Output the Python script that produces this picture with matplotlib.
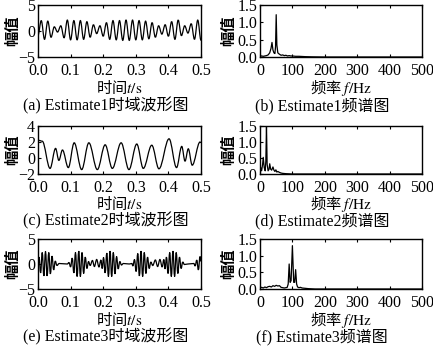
import matplotlib
matplotlib.use("Agg")
import matplotlib.pyplot as plt
from matplotlib.path import Path
from matplotlib.patches import PathPatch

plt.rcParams["font.family"] = ["Liberation Serif", "Noto Sans CJK SC"]
plt.rcParams["mathtext.fontset"] = "stix"
plt.rcParams["axes.unicode_minus"] = True

# -----------------------
# Data
# -----------------------

# Estimate1 time waveform: extrema (time s, amplitude)
t1 = [0.000, 0.010, 0.020, 0.030, 0.040, 0.050, 0.060, 0.070, 0.080, 0.090,
      0.100, 0.110, 0.120, 0.130, 0.140, 0.150, 0.160, 0.170, 0.180, 0.190,
      0.200, 0.210, 0.220, 0.230, 0.240, 0.250, 0.260, 0.270, 0.280, 0.290,
      0.300, 0.310, 0.320, 0.330, 0.340, 0.350, 0.360, 0.370, 0.380, 0.390,
      0.400, 0.410, 0.420, 0.430, 0.440, 0.450, 0.460, 0.470, 0.480, 0.490,
      0.500]
y1 = [-0.8, 2.0, -1.6, 1.9, -1.2, 0.8, -0.2, 1.0, -1.3, 2.1,
      -1.7, 2.0, -1.7, 2.0, -1.6, 1.8, -1.2, 1.2, -0.5, 1.0,
      -1.0, 1.6, -1.6, 2.0, -1.7, 2.0, -1.8, 2.1, -1.8, 2.1,
      -1.7, 2.0, -1.7, 1.9, -1.5, 1.6, -1.2, 1.0, -0.6, 1.2,
      -1.0, 1.8, -1.6, 2.1, -0.9, 1.0, -0.4, 1.4, -1.6, 2.1,
      -1.8]

# Estimate2 time waveform
t2 = [0.000, 0.003, 0.013, 0.037, 0.054, 0.064, 0.075, 0.093, 0.111, 0.134,
      0.156, 0.182, 0.206, 0.228, 0.255, 0.279, 0.303, 0.323, 0.349, 0.371,
      0.402, 0.425, 0.441, 0.451, 0.461, 0.473, 0.497, 0.500]
y2 = [2.0, 2.2, 2.1, -1.3, 1.2, -0.3, 1.0, -1.2, 1.9, -1.45,
      1.9, -1.45, 1.65, -1.3, 1.9, -1.45, 1.75, -1.3, 1.6, -1.35,
      2.4, -1.2, 1.45, -0.4, 1.15, -0.9, 2.0, 1.9]

# Estimate3 time waveform (bursts of a 100 Hz carrier)
t3 = [0.000, 0.003, 0.008, 0.013, 0.018, 0.023, 0.028, 0.033, 0.038, 0.043,
      0.048, 0.053, 0.058, 0.065, 0.090,
      0.095, 0.100, 0.105, 0.110, 0.115, 0.120, 0.125, 0.130, 0.135, 0.140,
      0.145, 0.150, 0.155, 0.160, 0.167, 0.173, 0.180, 0.187, 0.193,
      0.197, 0.201, 0.206, 0.211, 0.216, 0.221, 0.226, 0.231, 0.236, 0.241,
      0.246, 0.251, 0.256, 0.262, 0.280, 0.288,
      0.291, 0.296, 0.301, 0.306, 0.311, 0.316, 0.321, 0.326, 0.331, 0.336,
      0.341, 0.346, 0.352, 0.360, 0.367, 0.374, 0.381, 0.386,
      0.390, 0.394, 0.399, 0.404, 0.409, 0.414, 0.419, 0.424, 0.429, 0.434,
      0.439, 0.444, 0.449, 0.460, 0.478,
      0.482, 0.487, 0.492, 0.497, 0.500]
y3 = [0.0, 1.4, -1.8, 2.3, -2.4, 2.5, -2.4, 2.3, -2.0, 1.6,
      -1.2, 0.6, -0.3, 0.1, 0.0,
      0.3, -0.6, 1.2, -1.8, 2.3, -2.5, 2.6, -2.5, 2.3, -1.9,
      1.4, -0.9, 0.5, -0.3, 0.7, -0.5, 0.9, -0.6, 0.8,
      -0.9, 1.3, -1.8, 2.2, -2.5, 2.6, -2.5, 2.3, -2.0, 1.5,
      -1.0, 0.5, -0.2, 0.1, 0.0, 0.1,
      -0.4, 0.9, -1.5, 2.1, -2.4, 2.6, -2.5, 2.3, -1.9, 1.4,
      -0.9, 0.4, -0.3, 0.8, -0.5, 0.9, -0.6, 0.9,
      -1.0, 1.4, -1.9, 2.3, -2.5, 2.6, -2.5, 2.3, -1.9, 1.4,
      -0.9, 0.4, -0.1, 0.0, 0.1,
      -0.4, 0.8, -1.2, 1.5, 0.5]

# Spectra (frequency Hz, amplitude)
f1 = [0, 5, 10, 15, 20, 25, 30, 34, 37, 40, 43, 46, 48, 50, 52, 55, 60, 65,
      70, 75, 80, 85, 90, 95, 100, 110, 120, 130, 140, 160, 200, 500]
a1 = [0.02, 0.03, 0.02, 0.03, 0.04, 0.06, 0.12, 0.25, 0.42, 0.2, 0.12, 0.1,
      0.3, 1.22, 0.35, 0.12, 0.08, 0.05, 0.06, 0.04, 0.05, 0.03, 0.04, 0.03,
      0.03, 0.02, 0.02, 0.015, 0.01, 0.005, 0.0, 0.0]

f2 = [0, 2, 5, 8, 10, 13, 16, 18, 20, 22, 25, 28, 30, 33, 36, 40, 43, 46,
      49, 52, 55, 60, 65, 70, 80, 100, 500]
a2 = [0.15, 0.2, 0.1, 0.3, 0.52, 0.2, 0.1, 0.4, 1.5, 0.3, 0.1, 0.15, 0.32,
      0.15, 0.12, 0.22, 0.12, 0.08, 0.13, 0.06, 0.08, 0.05, 0.03, 0.02, 0.01,
      0.0, 0.0]

f3 = [0, 5, 10, 15, 20, 25, 30, 35, 40, 45, 50, 55, 60, 65, 70, 75, 80, 84,
      87, 90, 93, 96, 100, 104, 107, 110, 113, 116, 120, 125, 130, 140, 150,
      170, 500]
a3 = [0.03, 0.05, 0.03, 0.06, 0.04, 0.07, 0.08, 0.06, 0.1, 0.08, 0.11, 0.09,
      0.1, 0.05, 0.04, 0.03, 0.04, 0.05, 0.15, 0.75, 0.2, 0.25, 1.3, 0.2, 0.2,
      0.58, 0.15, 0.06, 0.04, 0.05, 0.03, 0.02, 0.01, 0.0, 0.0]

time_ticks = [0.0, 0.1, 0.2, 0.3, 0.4, 0.5]
freq_ticks = [0, 100, 200, 300, 400, 500]
amp_ticks = [0.0, 0.5, 1.0, 1.5]

captions_left = ["(a) Estimate1时域波形图", "(c) Estimate2时域波形图",
                 "(e) Estimate3时域波形图"]
captions_right = ["(b) Estimate1频谱图", "(d) Estimate2频谱图",
                  "(f) Estimate3频谱图"]

W, H = 433, 346


def smooth_path(ts, ys):
    # cubic segments with flat tangents at each extremum
    verts = [(ts[0], ys[0])]
    codes = [Path.MOVETO]
    for i in range(1, len(ts)):
        h = ts[i] - ts[i - 1]
        verts += [(ts[i - 1] + 0.36 * h, ys[i - 1]),
                  (ts[i] - 0.36 * h, ys[i]),
                  (ts[i], ys[i])]
        codes += [Path.CURVE4] * 3
    return Path(verts, codes)


def box(left, top, right, bottom):
    return [left / W, 1 - bottom / H, (right - left) / W, (bottom - top) / H]


def style(ax):
    ax.tick_params(direction="in", length=2.5, width=0.8, labelsize=11.5,
                   top=True, right=False)
    ax.tick_params(axis="x", pad=4)
    ax.tick_params(axis="y", pad=2)
    for s in ax.spines.values():
        s.set_linewidth(1.0)


fig = plt.figure(figsize=(W / 100, H / 100), dpi=100)

rows = [(5, 57), (126, 174), (239, 289)]
left_ylim = [(-5, 5), (-2, 4), (-5, 5)]
left_yticks = [[-5, 0, 5], [-2, 0, 2, 4], [-5, 0, 5]]
waves = [(t1, y1), (t2, y2), (t3, y3)]
spectra = [(f1, a1), (f2, a2), (f3, a3)]
label_y = [(88, 106), (204, 221), (320, 337)]

for i in range(3):
    top, bottom = rows[i]

    # time waveform
    ax = fig.add_axes(box(38, top, 201, bottom))
    ts, ys = waves[i]
    ax.add_patch(PathPatch(smooth_path(ts, ys), fill=False, ec="black",
                           lw=0.9))
    ax.set_xlim(0, 0.5)
    ax.set_ylim(*left_ylim[i])
    ax.set_xticks(time_ticks)
    ax.set_xticklabels(["%.1f" % v for v in time_ticks])
    ax.set_yticks(left_yticks[i])
    style(ax)
    ax.set_ylabel("幅值", family="Noto Sans CJK SC", fontsize=11,
                  weight="bold")
    ax.yaxis.set_label_coords((20 - 38) / 163, 0.5)

    # spectrum
    bx = fig.add_axes(box(260, top, 422, bottom))
    fs, am = spectra[i]
    bx.plot(fs, am, color="black", lw=0.9)
    bx.set_xlim(0, 500)
    bx.set_ylim(0, 1.5)
    bx.set_xticks(freq_ticks)
    bx.set_yticks(amp_ticks)
    bx.set_yticklabels(["%.1f" % v for v in amp_ticks])
    style(bx)
    bx.set_ylabel("幅值", family="Noto Sans CJK SC", fontsize=11,
                  weight="bold")
    bx.yaxis.set_label_coords((236 - 260) / 162, 0.5)

    xl, cap = label_y[i]
    fig.text(119.5 / W, 1 - xl / H, r"时间$t/\mathrm{s}$",
             family="Noto Sans CJK SC", fontsize=11,
             ha="center", va="center")
    fig.text(341 / W, 1 - xl / H, r"频率 $f/\mathrm{Hz}$",
             family="Noto Sans CJK SC", fontsize=11,
             ha="center", va="center")
    fig.text(106 / W, 1 - cap / H, captions_left[i], fontsize=11.5,
             ha="center", va="center")
    fig.text(322 / W, 1 - cap / H, captions_right[i], fontsize=11.5,
             ha="center", va="center")

fig.savefig("out.png", dpi=100)
plt.close(fig)
